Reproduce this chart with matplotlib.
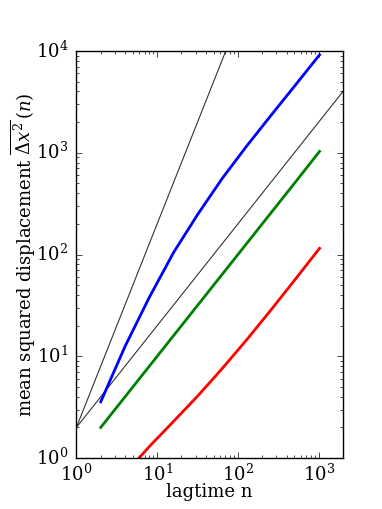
import numpy as np
import matplotlib
matplotlib.use("Agg")
import matplotlib.pyplot as plt

plt.style.use("classic")
plt.rcParams['font.family'] = 'serif'
plt.rcParams['font.serif'] = ['DejaVu Serif']
plt.rcParams['mathtext.fontset'] = 'dejavuserif'

# lag times (powers of two)
lagtime = [2, 4, 8, 16, 32, 64, 128, 256, 512, 1024]

# mean squared displacement for the three walks
msd_blue = [3.57, 12.5, 38, 105, 250, 560, 1160, 2320, 4600, 9150]
msd_green = [2, 4, 8, 16, 32, 64, 128, 256, 512, 1030]
msd_red = [0.38, 0.7, 1.3, 2.3, 4.1, 7.6, 14.5, 28.5, 57, 115]

# reference slopes: ballistic (n^2) and diffusive (n)
ref_n = [1, 2000]
ref_ballistic = [2, 2 * 2000 ** 2]
ref_diffusive = [2, 2 * 2000]

fig = plt.figure(figsize=(3.82, 5.09), dpi=100)
ax = fig.add_axes([0.2, 0.1, 0.698, 0.8])

ax.loglog(ref_n, ref_ballistic, color='#333333', lw=0.8)
ax.loglog(ref_n, ref_diffusive, color='#333333', lw=0.8)
ax.loglog(lagtime, msd_blue, color='b', lw=2)
ax.loglog(lagtime, msd_green, color='g', lw=2)
ax.loglog(lagtime, msd_red, color='r', lw=2)

ax.set_xlim(1, 2000)
ax.set_ylim(1, 1e4)
ax.tick_params(labelsize=13)
ax.tick_params(axis='y', pad=6)
ax.set_xlabel("lagtime n", fontsize=13, labelpad=-1)
ax.set_ylabel(r"mean squared displacement $\overline{\Delta x^2}\,(n)$", fontsize=13, labelpad=-2)

fig.savefig("out.png", dpi=100)
